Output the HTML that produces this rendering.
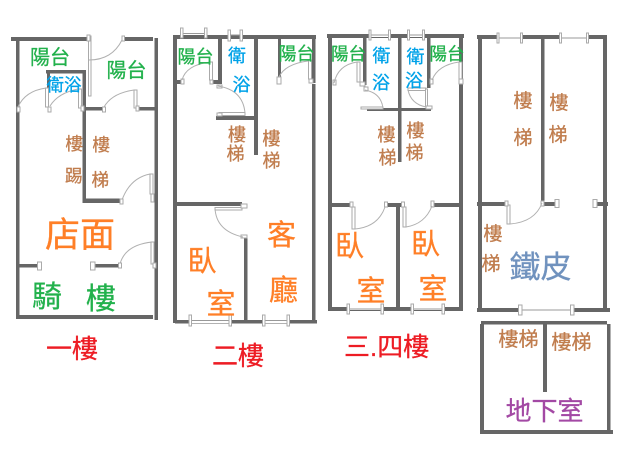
<!DOCTYPE html>
<html><head><meta charset="utf-8"><style>
html,body{margin:0;padding:0;background:#fff;width:638px;height:460px;overflow:hidden}
svg{display:block}
text{font-family:"Liberation Sans","Noto Sans CJK TC",sans-serif;stroke-width:.3px}
.w{fill:#666}
.p{fill:#fff;stroke:#aaa;stroke-width:1}
.a{fill:none;stroke:#b0b0b0;stroke-width:1}
.l{stroke:#999;stroke-width:1}
.g{fill:#22b14c;stroke:#22b14c}.b{fill:#00a2e8;stroke:#00a2e8}.o{fill:#ff7f27;stroke:#ff7f27}.k{fill:#c07d4e;stroke:#c07d4e}.r{fill:#ed1c24;stroke:#ed1c24}.u{fill:#a349a4;stroke:#a349a4}.s{fill:#7092be;stroke:#7092be}
</style></head><body>
<svg width="638" height="460" viewBox="0 0 638 460" xmlns="http://www.w3.org/2000/svg">
<!-- Panel 1 -->
<g>
<rect class="w" x="11" y="37" width="77" height="4"/><rect class="w" x="123" y="37" width="30" height="4"/>
<rect class="w" x="16" y="37" width="3.500" height="282"/><rect class="w" x="154.500" y="38" width="3.500" height="282"/>
<rect class="w" x="46" y="70" width="40" height="3.500"/><rect class="w" x="47" y="70" width="3" height="18"/>
<rect class="w" x="82.500" y="70" width="3.500" height="133"/>
<rect class="w" x="85" y="107" width="18" height="3.500"/><rect class="w" x="137" y="107" width="18" height="3.500"/>
<rect class="w" x="82.500" y="198.500" width="37" height="4.500"/>
<rect class="w" x="16" y="315" width="137" height="4"/>
<rect class="w" x="19" y="264" width="19" height="3.500"/><rect class="w" x="93" y="264" width="26" height="3.500"/>
<rect class="p" x="37.500" y="262" width="4" height="8"/><rect class="p" x="90.500" y="262" width="4.500" height="8"/>
<rect class="p" x="88.500" y="36" width="2.500" height="60"/><rect class="p" x="87" y="35" width="3" height="6"/><rect class="p" x="122" y="36" width="2.500" height="5"/>
<path class="a" d="M89 60Q112 60 122 40"/>
<rect class="p" x="45.500" y="88" width="3" height="19"/><rect class="p" x="78.500" y="89" width="3" height="19"/>
<rect class="p" x="17" y="107" width="3" height="5"/><rect class="p" x="48" y="107" width="3" height="5"/><rect class="p" x="81" y="106" width="3" height="5"/>
<path class="a" d="M18 107Q25 91 46 88"/><path class="a" d="M50 106Q58 93 78 89"/>
<rect class="p" x="134" y="90" width="3" height="18"/><rect class="p" x="102.500" y="107" width="3" height="5"/><rect class="p" x="136" y="106" width="3" height="5"/>
<path class="a" d="M104 107Q112 93 134 90"/>
<path class="a" d="M122 200Q130 178 150 174"/><rect class="p" x="150" y="174" width="3" height="20"/><rect class="p" x="120" y="199" width="3" height="5"/><rect class="p" x="151" y="194" width="3" height="8"/>
<path class="a" d="M120 264Q125 245 152 242"/><rect class="p" x="151" y="242" width="3" height="22"/><rect class="p" x="118.500" y="263" width="3" height="5"/><rect class="p" x="153" y="263" width="3" height="5"/>
<text class="g" x="30" y="64" font-size="20">陽台</text>
<text class="g" x="106.500" y="77" font-size="20">陽台</text>
<text class="b" x="46.500" y="91" font-size="17.500">衛浴</text>
<text class="k" x="65.500" y="150" font-size="17.500">樓</text>
<text class="k" x="65" y="182" font-size="17.500">踢</text>
<text class="k" x="92.500" y="151" font-size="17.500">樓</text>
<text class="k" x="91.500" y="186" font-size="17.500">梯</text>
<text class="o" x="45" y="247" font-size="35">店面</text>
<text class="g" x="32" y="307" font-size="30">騎</text>
<text class="g" x="86" y="309" font-size="30">樓</text>
<text class="r" x="46" y="358" font-size="26">一樓</text>
</g>
<!-- Panel 2 -->
<g>
<rect class="w" x="173" y="35" width="143" height="4"/>
<rect class="w" x="173" y="35" width="4" height="288"/><rect class="w" x="312" y="35" width="3.500" height="48"/><rect class="w" x="312" y="84" width="3.500" height="239"/>
<rect class="w" x="218" y="39" width="4" height="45"/><rect class="w" x="177" y="80" width="4" height="4"/><rect class="w" x="213" y="80" width="9" height="4"/>
<rect class="w" x="254" y="39" width="4" height="116"/><rect class="w" x="216" y="116" width="42" height="4"/>
<rect class="w" x="278" y="39" width="3" height="38"/>
<rect class="w" x="173" y="202" width="69" height="4"/><rect class="w" x="244" y="238" width="3.500" height="85"/>
<rect class="w" x="175" y="320" width="142" height="3.500"/>
<rect x="181" y="32" width="25" height="3" fill="#fff"/><line class="l" x1="181" y1="33.500" x2="206" y2="33.500"/>
<rect class="p" x="180.500" y="28" width="2.500" height="10"/><rect class="p" x="204.500" y="28" width="2.500" height="10"/>
<rect class="p" x="228" y="30" width="2.500" height="11"/><rect class="p" x="240" y="30" width="2.500" height="11"/><line class="l" x1="230" y1="35" x2="240" y2="35"/>
<rect class="p" x="209.500" y="62" width="3" height="18"/><rect class="p" x="181" y="79" width="3" height="5"/><rect class="p" x="210" y="80" width="3" height="4"/>
<path class="a" d="M182 80Q186 65 210 62"/>
<rect class="p" x="219" y="112.500" width="26" height="3"/><rect class="p" x="217" y="113" width="5" height="3"/><rect class="p" x="217" y="85" width="5" height="3"/>
<path class="a" d="M245 113Q243 90 218 86"/>
<rect class="p" x="308.500" y="60" width="3" height="19"/><rect class="p" x="277" y="77" width="4" height="7"/><rect class="p" x="309" y="79" width="4" height="4"/>
<path class="a" d="M279 77Q285 64 308 61"/>
<rect class="p" x="215" y="207.500" width="27" height="2.500"/><rect class="p" x="241" y="204" width="6" height="4"/><rect class="p" x="241" y="235" width="6" height="3"/>
<path class="a" d="M215 208Q216 231 243 237"/>
<rect x="190" y="318" width="40" height="5" fill="#fff"/><line class="l" x1="190" y1="320.500" x2="230" y2="320.500"/>
<rect x="263" y="318" width="25" height="5" fill="#fff"/><line class="l" x1="263" y1="320.500" x2="288" y2="320.500"/>
<rect class="p" x="189" y="315" width="2.500" height="11"/><rect class="p" x="229" y="315" width="2.500" height="11"/><rect class="p" x="262.500" y="315" width="2.500" height="11"/><rect class="p" x="287" y="315" width="2.500" height="11"/>
<text class="g" x="177.500" y="63" font-size="18">陽台</text>
<text class="g" x="278.500" y="60" font-size="18">陽台</text>
<text class="b" x="228" y="62" font-size="18">衛</text>
<text class="b" x="232.500" y="91" font-size="18">浴</text>
<text class="k" x="228" y="141" font-size="18">樓</text>
<text class="k" x="226.500" y="160" font-size="18">梯</text>
<text class="k" x="262.500" y="145" font-size="18">樓</text>
<text class="k" x="262.500" y="167" font-size="18">梯</text>
<text class="o" x="267" y="245" font-size="29">客</text>
<text class="o" x="269" y="300" font-size="29">廳</text>
<text class="o" x="187.500" y="271" font-size="29">臥</text>
<text class="o" x="206.500" y="314" font-size="29">室</text>
<text class="r" x="212" y="365" font-size="26">二樓</text>
</g>
<!-- Panel 3 -->
<g>
<rect class="w" x="327" y="34" width="137" height="4"/>
<rect class="w" x="328" y="34" width="4" height="276"/><rect class="w" x="459" y="34" width="4" height="276"/>
<rect class="w" x="363" y="38" width="3.500" height="47"/><rect class="w" x="398" y="38" width="3.500" height="124"/><rect class="w" x="427" y="38" width="3.500" height="50"/>
<rect class="w" x="367" y="108" width="64" height="3"/>
<rect class="w" x="332" y="203" width="20" height="4"/><rect class="w" x="386" y="203" width="16" height="4"/><rect class="w" x="433" y="203" width="27" height="4"/>
<rect class="w" x="396" y="203" width="4" height="107"/><rect class="w" x="328" y="307" width="135" height="4"/>
<rect x="370" y="33" width="19" height="4" fill="#fff"/><rect x="408" y="33" width="15" height="4" fill="#fff"/>
<line class="l" x1="370" y1="35" x2="389" y2="35"/><line class="l" x1="408" y1="35" x2="423" y2="35"/>
<rect class="p" x="369" y="30" width="2" height="10"/><rect class="p" x="388.500" y="30" width="2" height="10"/><rect class="p" x="407.500" y="30" width="2" height="10"/><rect class="p" x="422.500" y="30" width="2" height="10"/>
<rect class="p" x="357" y="62" width="3" height="20"/><rect class="p" x="333" y="80" width="3" height="5"/><rect class="p" x="360" y="82" width="5" height="4"/>
<path class="a" d="M334 83Q338 65 357 62"/>
<rect class="p" x="361" y="107" width="22" height="2"/><rect class="p" x="364" y="87" width="4" height="4"/>
<path class="a" d="M365 90Q381 93 383 108"/>
<rect class="p" x="408" y="88" width="18" height="2.500"/><rect class="p" x="425.500" y="89" width="2" height="17"/><rect class="p" x="426" y="106" width="6" height="3"/>
<path class="a" d="M408 90Q411 104 426 107"/>
<rect class="p" x="459" y="62" width="3" height="20"/><rect class="p" x="430" y="79" width="3" height="5"/><rect class="p" x="459" y="79" width="4" height="5"/>
<path class="a" d="M432 80Q438 65 459 62"/>
<rect class="p" x="352" y="207" width="3" height="22"/><rect class="p" x="350" y="202" width="3" height="5"/><rect class="p" x="384.500" y="202" width="3" height="5"/>
<path class="a" d="M355 229Q378 227 385 207"/>
<rect class="p" x="403" y="207" width="3" height="20"/><rect class="p" x="401.500" y="202" width="3" height="5"/><rect class="p" x="431" y="201" width="3" height="6"/>
<path class="a" d="M406 227Q425 224 432 206"/>
<rect x="348" y="306" width="34" height="4" fill="#fff"/><rect x="412" y="306" width="31" height="4" fill="#fff"/>
<line class="l" x1="348" y1="309" x2="382" y2="309"/><line class="l" x1="412" y1="309" x2="443" y2="309"/>
<rect class="p" x="347" y="304" width="2.500" height="10"/><rect class="p" x="381" y="304" width="2.500" height="10"/><rect class="p" x="411" y="304" width="2.500" height="10"/><rect class="p" x="442" y="304" width="2.500" height="10"/>
<text class="g" x="331" y="60" font-size="17.500">陽台</text>
<text class="g" x="429.500" y="60" font-size="17.500">陽台</text>
<text class="b" x="372.500" y="62" font-size="18">衛</text>
<text class="b" x="372" y="89" font-size="18">浴</text>
<text class="b" x="406.500" y="63" font-size="18">衛</text>
<text class="b" x="405" y="87" font-size="18">浴</text>
<text class="k" x="377.500" y="141" font-size="18">樓</text>
<text class="k" x="378.500" y="164" font-size="18">梯</text>
<text class="k" x="406.500" y="137" font-size="18">樓</text>
<text class="k" x="405.500" y="159" font-size="18">梯</text>
<text class="o" x="335" y="256" font-size="29">臥</text>
<text class="o" x="356.500" y="301" font-size="29">室</text>
<text class="o" x="411" y="254" font-size="29">臥</text>
<text class="o" x="418.500" y="299" font-size="29">室</text>
<text class="r" x="344" y="356" font-size="26">三.四樓</text>
</g>
<!-- Panel 4 -->
<g>
<rect class="w" x="477" y="35" width="21" height="4"/><rect class="w" x="521" y="35" width="39" height="4"/><rect class="w" x="587" y="35" width="18" height="4"/>
<line class="l" x1="498" y1="38" x2="521" y2="38"/><line class="l" x1="560" y1="38" x2="587" y2="38"/>
<rect class="w" x="478" y="35" width="4" height="277"/><rect class="w" x="603" y="35" width="4" height="275"/>
<rect class="w" x="541" y="39" width="3.500" height="165"/>
<rect class="w" x="477" y="202" width="28" height="4"/><rect class="w" x="542" y="202" width="13" height="4"/><rect class="w" x="597" y="202" width="11" height="4"/>
<rect class="w" x="477" y="308" width="43" height="4"/><rect class="w" x="572" y="308" width="38" height="4"/>
<line class="l" x1="520" y1="310" x2="572" y2="310"/>
<rect class="p" x="497" y="33" width="2" height="10"/><rect class="p" x="520.500" y="33" width="2" height="10"/><rect class="p" x="559.500" y="33" width="2" height="10"/><rect class="p" x="586.500" y="33" width="2" height="10"/>
<rect class="p" x="555" y="199.500" width="4" height="8"/><rect class="p" x="593" y="199.500" width="4" height="8"/>
<rect class="p" x="507" y="205" width="3" height="19"/><rect class="p" x="505" y="201" width="3" height="5"/><rect class="p" x="541" y="201" width="3" height="5"/>
<path class="a" d="M510 224Q535 222 542 203"/>
<rect class="p" x="518.500" y="305" width="3.500" height="10"/><rect class="p" x="570.500" y="305" width="3.500" height="10"/>
<text class="k" x="513.500" y="107" font-size="19">樓</text>
<text class="k" x="513.500" y="144" font-size="19">梯</text>
<text class="k" x="549.500" y="109" font-size="19">樓</text>
<text class="k" x="548.500" y="141" font-size="19">梯</text>
<text class="k" x="483.500" y="240" font-size="19">樓</text>
<text class="k" x="481.500" y="270" font-size="19">梯</text>
<text class="s" x="509.500" y="278" font-size="31">鐵皮</text>
</g>
<!-- Panel 5 -->
<g>
<rect class="w" x="481" y="321" width="126" height="3.500"/>
<rect class="w" x="480" y="324" width="4" height="109"/><rect class="w" x="607" y="324" width="3.500" height="108"/>
<rect class="w" x="480" y="430" width="133" height="4"/><rect class="w" x="543" y="324" width="4" height="68"/>
<text class="k" x="498.500" y="346" font-size="20">樓梯</text>
<text class="k" x="551.500" y="349" font-size="20">樓梯</text>
<text class="u" x="505.500" y="420" font-size="26">地下室</text>
</g>
</svg>
</body></html>
